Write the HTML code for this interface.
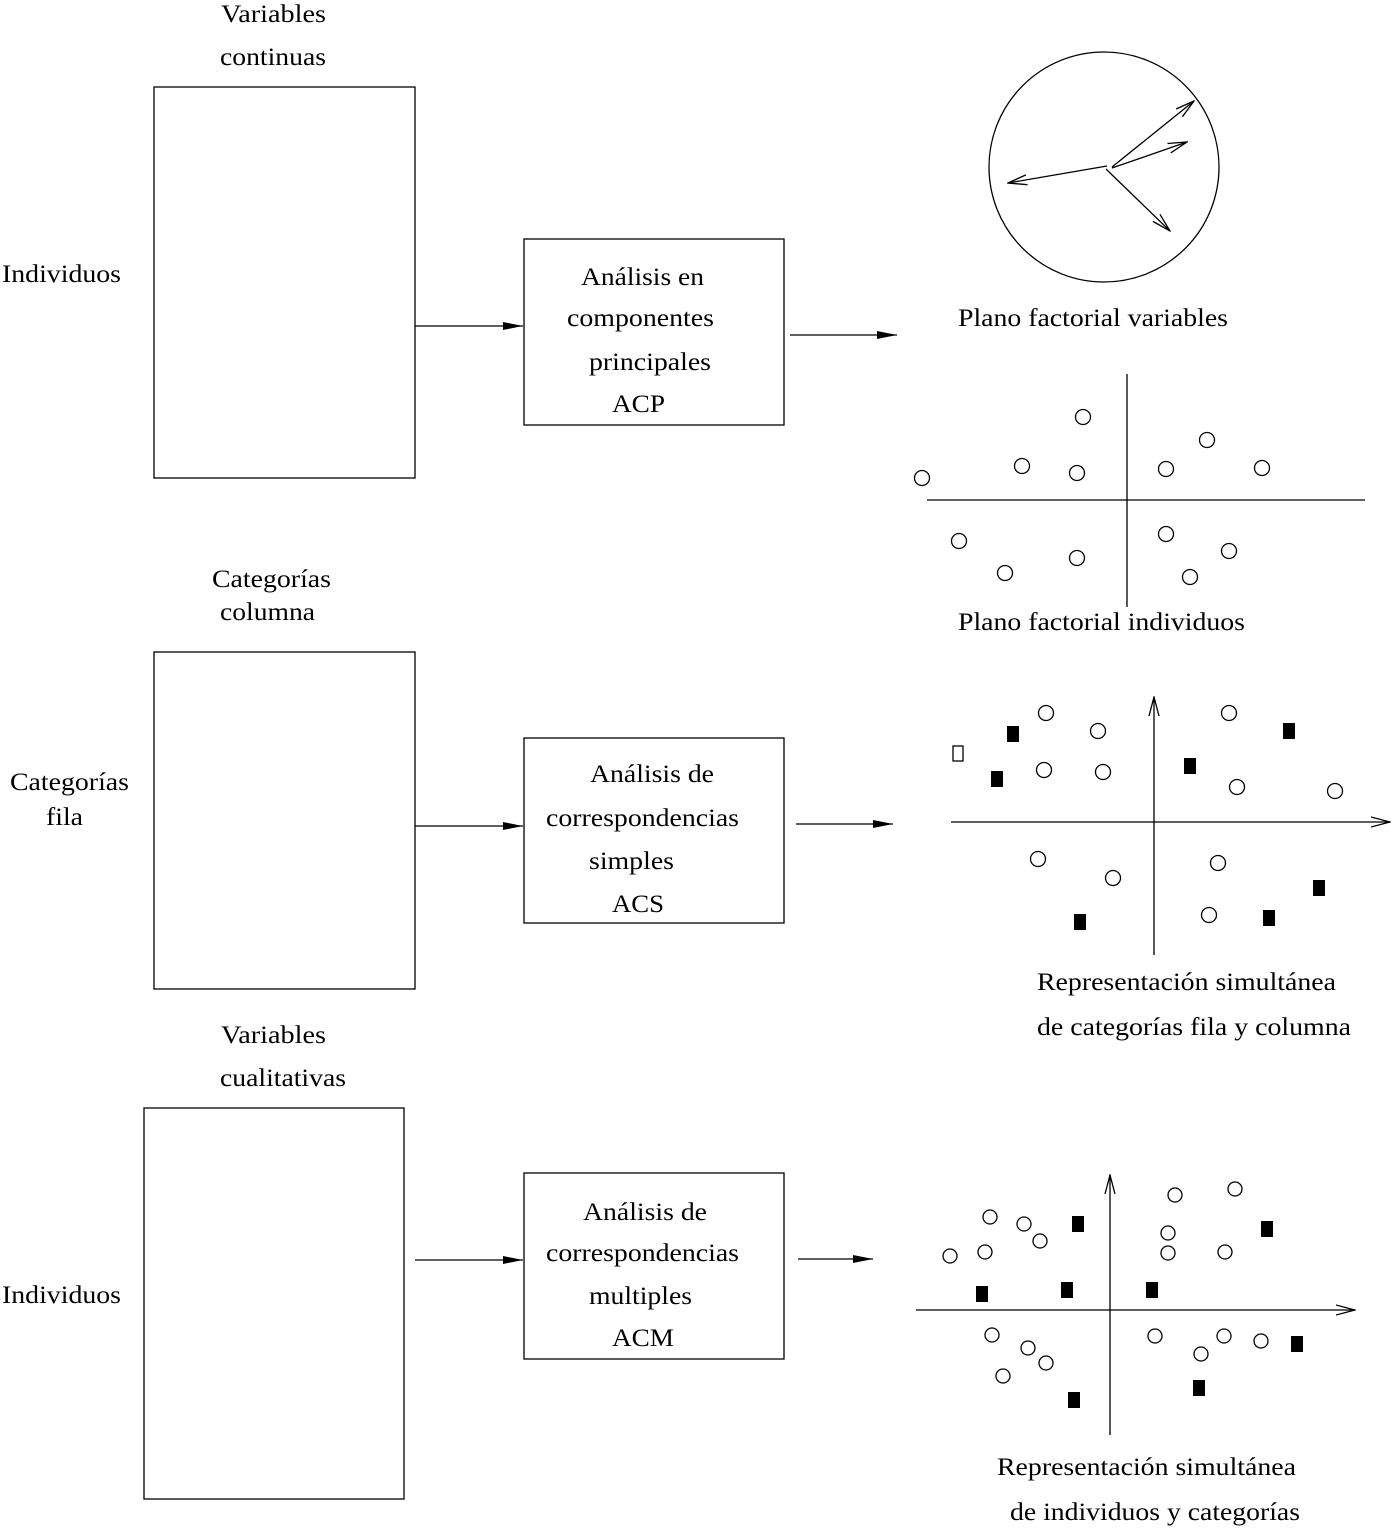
<!DOCTYPE html>
<html><head><meta charset="utf-8"><style>body{margin:0;background:#fff}svg{display:block}text{font-family:"Liberation Serif",serif;font-size:25px;fill:#000}</style></head><body>
<svg width="1395" height="1531" viewBox="0 0 1395 1531" xmlns="http://www.w3.org/2000/svg">
<defs>
<marker id="f" markerWidth="20" markerHeight="10" refX="20" refY="5" orient="auto" markerUnits="userSpaceOnUse"><path d="M0,1 L20,5 L0,9 Z" fill="#000"/></marker>
<marker id="o" markerWidth="20" markerHeight="12" refX="19" refY="6" orient="auto" markerUnits="userSpaceOnUse"><path d="M0,1 L19,6 L0,11" fill="none" stroke="#000" stroke-width="1.3"/></marker>
</defs>
<g fill="none" stroke="#000" stroke-width="1.3">
<rect x="154" y="87" width="261" height="391"/>
<rect x="524" y="239" width="260" height="186"/>
<rect x="154" y="652" width="261" height="337"/>
<rect x="524" y="738" width="260" height="185"/>
<rect x="144" y="1108" width="260" height="391"/>
<rect x="524" y="1173" width="260" height="186"/>
<line x1="415" y1="326" x2="523" y2="326" marker-end="url(#f)"/>
<line x1="790" y1="335" x2="897" y2="335" marker-end="url(#f)"/>
<line x1="415" y1="826" x2="523" y2="826" marker-end="url(#f)"/>
<line x1="796" y1="824" x2="893" y2="824" marker-end="url(#f)"/>
<line x1="415" y1="1260" x2="523" y2="1260" marker-end="url(#f)"/>
<line x1="798" y1="1259" x2="873" y2="1259" marker-end="url(#f)"/>
<circle cx="1104" cy="167" r="115"/>
<line x1="1112" y1="167" x2="1194" y2="101" marker-end="url(#o)"/>
<line x1="1112" y1="168" x2="1187" y2="142" marker-end="url(#o)"/>
<line x1="1107" y1="166" x2="1008" y2="183" marker-end="url(#o)"/>
<line x1="1106" y1="169" x2="1170" y2="231" marker-end="url(#o)"/>
<line x1="927" y1="500" x2="1365" y2="500"/>
<line x1="1127" y1="374" x2="1127" y2="607"/>
<line x1="951" y1="822" x2="1390" y2="822" marker-end="url(#o)"/>
<line x1="1154" y1="955" x2="1154" y2="697" marker-end="url(#o)"/>
<line x1="916" y1="1310" x2="1355" y2="1310" marker-end="url(#o)"/>
<line x1="1110" y1="1435" x2="1110" y2="1175" marker-end="url(#o)"/>
<g>
<circle cx="1083" cy="417" r="7.5"/><circle cx="1207" cy="440" r="7.5"/><circle cx="922" cy="478" r="7.5"/><circle cx="1022" cy="466" r="7.5"/><circle cx="1077" cy="473" r="7.5"/><circle cx="1166" cy="469" r="7.5"/><circle cx="1262" cy="468" r="7.5"/><circle cx="959" cy="541" r="7.5"/><circle cx="1005" cy="573" r="7.5"/><circle cx="1077" cy="558" r="7.5"/><circle cx="1166" cy="534" r="7.5"/><circle cx="1229" cy="551" r="7.5"/><circle cx="1190" cy="577" r="7.5"/>
<circle cx="1046" cy="713" r="7.5"/><circle cx="1098" cy="731" r="7.5"/><circle cx="1229" cy="713" r="7.5"/><circle cx="1044" cy="770" r="7.5"/><circle cx="1103" cy="772" r="7.5"/><circle cx="1237" cy="787" r="7.5"/><circle cx="1335" cy="791" r="7.5"/><circle cx="1038" cy="859" r="7.5"/><circle cx="1113" cy="878" r="7.5"/><circle cx="1218" cy="863" r="7.5"/><circle cx="1209" cy="915" r="7.5"/>
<circle cx="990" cy="1217" r="7"/><circle cx="1024" cy="1224" r="7"/><circle cx="1040" cy="1241" r="7"/><circle cx="950" cy="1256" r="7"/><circle cx="985" cy="1252" r="7"/><circle cx="1175" cy="1195" r="7"/><circle cx="1235" cy="1189" r="7"/><circle cx="1168" cy="1233" r="7"/><circle cx="1168" cy="1253" r="7"/><circle cx="1225" cy="1252" r="7"/><circle cx="992" cy="1335" r="7"/><circle cx="1028" cy="1348" r="7"/><circle cx="1046" cy="1363" r="7"/><circle cx="1003" cy="1376" r="7"/><circle cx="1155" cy="1336" r="7"/><circle cx="1224" cy="1336" r="7"/><circle cx="1261" cy="1341" r="7"/><circle cx="1201" cy="1354" r="7"/>
<rect x="953" y="746" width="10" height="15"/>
</g>
</g>
<g fill="#000">
<rect x="1007" y="726" width="12" height="16"/><rect x="991" y="771" width="12" height="16"/><rect x="1184" y="758" width="12" height="16"/><rect x="1283" y="723" width="12" height="16"/><rect x="1074" y="914" width="12" height="16"/><rect x="1263" y="910" width="12" height="16"/><rect x="1313" y="880" width="12" height="16"/>
<rect x="1072" y="1216" width="12" height="16"/><rect x="1261" y="1221" width="12" height="16"/><rect x="976" y="1286" width="12" height="16"/><rect x="1061" y="1282" width="12" height="16"/><rect x="1146" y="1282" width="12" height="16"/><rect x="1291" y="1336" width="12" height="16"/><rect x="1068" y="1392" width="12" height="16"/><rect x="1193" y="1380" width="12" height="16"/>
</g>
<g lengthAdjust="spacingAndGlyphs">
<text x="221" y="22" textLength="105" lengthAdjust="spacingAndGlyphs">Variables</text>
<text x="220" y="65" textLength="106" lengthAdjust="spacingAndGlyphs">continuas</text>
<text x="2" y="282" textLength="119" lengthAdjust="spacingAndGlyphs">Individuos</text>
<text x="581" y="285" textLength="123" lengthAdjust="spacingAndGlyphs">Análisis en</text>
<text x="567" y="326" textLength="147" lengthAdjust="spacingAndGlyphs">componentes</text>
<text x="589" y="370" textLength="122" lengthAdjust="spacingAndGlyphs">principales</text>
<text x="612" y="412" textLength="53" lengthAdjust="spacingAndGlyphs">ACP</text>
<text x="958" y="326" textLength="270" lengthAdjust="spacingAndGlyphs">Plano factorial variables</text>
<text x="958" y="630" textLength="287" lengthAdjust="spacingAndGlyphs">Plano factorial individuos</text>
<text x="212" y="587" textLength="119" lengthAdjust="spacingAndGlyphs">Categorías</text>
<text x="220" y="620" textLength="95" lengthAdjust="spacingAndGlyphs">columna</text>
<text x="10" y="790" textLength="119" lengthAdjust="spacingAndGlyphs">Categorías</text>
<text x="46" y="825" textLength="37" lengthAdjust="spacingAndGlyphs">fila</text>
<text x="590" y="782" textLength="124" lengthAdjust="spacingAndGlyphs">Análisis de</text>
<text x="546" y="826" textLength="193" lengthAdjust="spacingAndGlyphs">correspondencias</text>
<text x="589" y="869" textLength="85" lengthAdjust="spacingAndGlyphs">simples</text>
<text x="612" y="912" textLength="52" lengthAdjust="spacingAndGlyphs">ACS</text>
<text x="1037" y="990" textLength="299" lengthAdjust="spacingAndGlyphs">Representación simultánea</text>
<text x="1037" y="1035" textLength="314" lengthAdjust="spacingAndGlyphs">de categorías fila y columna</text>
<text x="221" y="1043" textLength="105" lengthAdjust="spacingAndGlyphs">Variables</text>
<text x="220" y="1086" textLength="126" lengthAdjust="spacingAndGlyphs">cualitativas</text>
<text x="2" y="1303" textLength="119" lengthAdjust="spacingAndGlyphs">Individuos</text>
<text x="583" y="1220" textLength="124" lengthAdjust="spacingAndGlyphs">Análisis de</text>
<text x="546" y="1261" textLength="193" lengthAdjust="spacingAndGlyphs">correspondencias</text>
<text x="589" y="1304" textLength="103" lengthAdjust="spacingAndGlyphs">multiples</text>
<text x="612" y="1346" textLength="62" lengthAdjust="spacingAndGlyphs">ACM</text>
<text x="997" y="1475" textLength="299" lengthAdjust="spacingAndGlyphs">Representación simultánea</text>
<text x="1010" y="1520" textLength="290" lengthAdjust="spacingAndGlyphs">de individuos y categorías</text>
</g>
</svg>
</body></html>
